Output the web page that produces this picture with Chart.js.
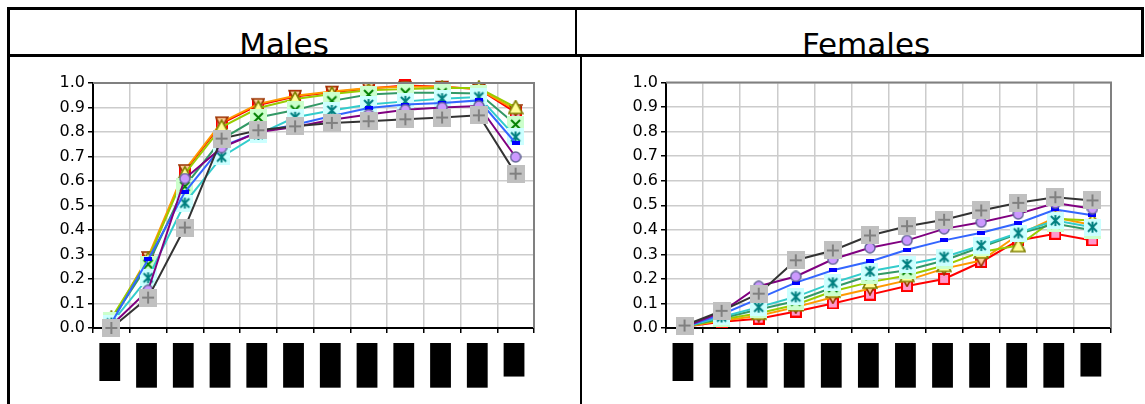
<!DOCTYPE html>
<html>
<head>
<meta charset="utf-8">
<script src="https://cdn.jsdelivr.net/npm/chart.js@4/dist/chart.umd.min.js"></script>
<style>
  body { margin: 0; background: #fff; width: 1145px; height: 404px; overflow: hidden; position: relative; font-family: "DejaVu Sans", sans-serif; }
  .ln { position: absolute; background: #000; }
  .title { position: absolute; top: 28px; font-size: 31px; line-height: 32px; color: #000; transform: translateX(-50%); white-space: nowrap; }
  canvas { position: absolute; }
</style>
</head>
<body>
<!-- table frame -->
<div class="ln" style="left:7px; top:7px; width:1137px; height:3px;"></div>
<div class="ln" style="left:7px; top:54px; width:1137px; height:3px;"></div>
<div class="ln" style="left:7px; top:7px; width:3px; height:397px;"></div>
<div class="ln" style="left:575px; top:7px; width:2px; height:50px;"></div>
<div class="ln" style="left:580px; top:54px; width:2px; height:350px;"></div>
<div class="ln" style="left:1141px; top:7px; width:3px; height:50px;"></div>
<div class="title" style="left:284px;">Males</div>
<div class="title" style="left:866px;">Females</div>

<canvas id="malesChart" width="520" height="334" style="left:40px; top:70px; width:520px; height:334px;"></canvas>
<canvas id="femalesChart" width="530" height="334" style="left:610px; top:70px; width:530px; height:334px;"></canvas>

<script>
// categories (labels are blacked out in the source)
const categories = ['< 25', '25-29', '30-34', '35-39', '40-44', '45-49', '50-54', '55-59', '60-64', '65-69', '70-74', '75+'];
const yTicks = [0, 0.1, 0.2, 0.3, 0.4, 0.5, 0.6, 0.7, 0.8, 0.9, 1.0];

// Males
const malesRed     = [0.03, 0.28, 0.64, 0.835, 0.91, 0.945, 0.962, 0.978, 0.99, 0.985, 0.975, 0.88];
const malesOrange  = [0.03, 0.29, 0.645, 0.84, 0.915, 0.948, 0.965, 0.98, 0.985, 0.985, 0.975, 0.89];
const malesYellow  = [0.04, 0.28, 0.63, 0.82, 0.898, 0.935, 0.955, 0.97, 0.975, 0.98, 0.98, 0.90];
const malesGreen   = [0.03, 0.26, 0.578, 0.77, 0.859, 0.89, 0.927, 0.953, 0.96, 0.96, 0.957, 0.831];
const malesCyan    = [0.02, 0.205, 0.51, 0.698, 0.79, 0.86, 0.888, 0.912, 0.925, 0.936, 0.943, 0.78];
const malesBlue    = [0.02, 0.28, 0.555, 0.74, 0.80, 0.83, 0.865, 0.898, 0.912, 0.918, 0.929, 0.755];
const malesPurple  = [0.01, 0.154, 0.61, 0.736, 0.80, 0.82, 0.85, 0.871, 0.891, 0.90, 0.906, 0.698];
const malesGray    = [0.0, 0.124, 0.41, 0.773, 0.807, 0.823, 0.837, 0.844, 0.852, 0.859, 0.868, 0.63];

// Females
const femalesRed    = [0.005, 0.025, 0.038, 0.067, 0.1, 0.136, 0.171, 0.2, 0.269, 0.357, 0.384, 0.357];
const femalesOrange = [0.005, 0.03, 0.05, 0.085, 0.125, 0.16, 0.194, 0.242, 0.275, 0.38, 0.45, 0.42];
const femalesYellow = [0.005, 0.035, 0.06, 0.095, 0.15, 0.187, 0.214, 0.255, 0.31, 0.336, 0.445, 0.438];
const femalesGreen  = [0.005, 0.04, 0.075, 0.11, 0.165, 0.214, 0.235, 0.275, 0.33, 0.384, 0.425, 0.398];
const femalesCyan   = [0.005, 0.045, 0.085, 0.127, 0.184, 0.231, 0.259, 0.289, 0.336, 0.387, 0.438, 0.411];
const femalesBlue   = [0.005, 0.055, 0.12, 0.185, 0.235, 0.271, 0.319, 0.357, 0.388, 0.427, 0.483, 0.459];
const femalesPurple = [0.005, 0.065, 0.17, 0.21, 0.28, 0.327, 0.357, 0.404, 0.431, 0.465, 0.509, 0.486];
const femalesGray   = [0.01, 0.07, 0.14, 0.276, 0.316, 0.377, 0.415, 0.441, 0.479, 0.51, 0.533, 0.52];

// Excel-like marker images
function marker(kind) {
  const c = document.createElement('canvas');
  const sizes = { square: 12, down: 14, up: 16, xbox: 17, starbox: 17, dash: 8, circle: 12, plusbox: 18 };
  const s = sizes[kind];
  c.width = s;
  c.height = kind === 'dash' ? 4 : s;
  const g = c.getContext('2d');
  g.lineWidth = 2;
  if (kind === 'square') {
    g.fillStyle = '#FF99CC'; g.fillRect(1, 1, s - 2, s - 2);
    g.strokeStyle = '#FF0000'; g.strokeRect(1, 1, s - 2, s - 2);
  } else if (kind === 'down' || kind === 'up') {
    g.beginPath();
    if (kind === 'down') { g.moveTo(1, 2); g.lineTo(s - 1, 2); g.lineTo(s / 2, s - 1); }
    else { g.moveTo(s / 2, 1); g.lineTo(s - 1, s - 2); g.lineTo(1, s - 2); }
    g.closePath();
    g.fillStyle = kind === 'down' ? '#FFCC99' : '#FFFF99'; g.fill();
    g.strokeStyle = kind === 'down' ? '#993300' : '#808000'; g.lineWidth = 1.6; g.stroke();
  } else if (kind === 'dash') {
    g.fillStyle = '#0000FF'; g.fillRect(0, 0, s, 4);
  } else if (kind === 'circle') {
    g.beginPath(); g.arc(s / 2, s / 2, s / 2 - 1, 0, Math.PI * 2);
    g.fillStyle = '#CC99FF'; g.fill();
    g.strokeStyle = '#666699'; g.lineWidth = 1.5; g.stroke();
  } else {
    const bg = { xbox: '#CCFFCC', starbox: '#CCFFFF', plusbox: '#C0C0C0' }[kind];
    const fg = { xbox: '#008000', starbox: '#008080', plusbox: '#808080' }[kind];
    g.fillStyle = bg; g.fillRect(0, 0, s, s);
    g.strokeStyle = fg; g.lineWidth = 2;
    const a = 4, b = s - 4;
    g.beginPath();
    if (kind === 'xbox' || kind === 'starbox') { g.moveTo(a, a); g.lineTo(b, b); g.moveTo(b, a); g.lineTo(a, b); }
    if (kind === 'starbox' || kind === 'plusbox') { g.moveTo(s / 2, a - 1); g.lineTo(s / 2, b + 1); }
    if (kind === 'plusbox') { g.moveTo(a - 1, s / 2); g.lineTo(b + 1, s / 2); }
    g.stroke();
  }
  return c;
}

const styles = [
  { line: '#FF0000', mk: 'square' },
  { line: '#FF9900', mk: 'down' },
  { line: '#99CC00', mk: 'up' },
  { line: '#339966', mk: 'xbox' },
  { line: '#33CCCC', mk: 'starbox' },
  { line: '#3366FF', mk: 'dash' },
  { line: '#800080', mk: 'circle' },
  { line: '#333333', mk: 'plusbox' }
];

// gray-ish top and right frame of the plot area
const plotFrame = {
  id: 'plotFrame',
  afterDatasetsDraw(chart) {
    const a = chart.chartArea, ctx = chart.ctx;
    ctx.save();
    ctx.strokeStyle = '#808080';
    ctx.lineWidth = 2;
    ctx.beginPath();
    ctx.moveTo(a.left, a.top);
    ctx.lineTo(a.right, a.top);
    ctx.lineTo(a.right, a.bottom);
    ctx.stroke();
    ctx.restore();
  }
};

function buildChart(id, series, yWidth, padRight, padTop) {
  // first dataset is painted on top, so list in reverse
  const datasets = series.map((vals, i) => ({
    data: vals,
    borderColor: styles[i].line,
    borderWidth: 2,
    pointStyle: marker(styles[i].mk),
    pointRadius: 6,
    pointHoverRadius: 6,
    tension: 0,
    clip: false
  })).reverse();

  return new Chart(document.getElementById(id), {
    type: 'line',
    data: { labels: categories, datasets: datasets },
    options: {
      responsive: false,
      animation: false,
      events: [],
      layout: { padding: { left: 0, right: padRight, top: padTop, bottom: 0 } },
      plugins: { legend: { display: false }, tooltip: { enabled: false } },
      scales: {
        x: {
          offset: true,
          grid: { offset: true, color: '#cccccc', lineWidth: 1.5, tickColor: '#000', tickLength: 5 },
          border: { color: '#000', width: 2 },
          afterFit: (s) => { s.height = 76; },
          ticks: {
            autoSkip: false,
            minRotation: 90,
            maxRotation: 90,
            padding: 12,
            labelOffset: -10,
            color: '#000',
            font: { family: 'DejaVu Sans', size: 14 },
            showLabelBackdrop: true,
            backdropColor: '#000',
            backdropPadding: 2
          }
        },
        y: {
          min: 0,
          max: 1,
          afterFit: (s) => { s.width = yWidth; },
          afterBuildTicks: (s) => { s.ticks = yTicks.map(v => ({ value: v })); },
          grid: { color: '#cccccc', lineWidth: 1.5, tickColor: '#000', tickLength: 5 },
          border: { color: '#000', width: 2 },
          ticks: {
            padding: 3,
            color: '#000',
            font: { family: 'DejaVu Sans', size: 16 },
            callback: (v) => Number(v).toFixed(1)
          }
        }
      }
    },
    plugins: [plotFrame]
  });
}

buildChart('malesChart',
  [malesRed, malesOrange, malesYellow, malesGreen, malesCyan, malesBlue, malesPurple, malesGray],
  53, 26, 13);
buildChart('femalesChart',
  [femalesRed, femalesOrange, femalesYellow, femalesGreen, femalesCyan, femalesBlue, femalesPurple, femalesGray],
  56, 29, 12);
</script>
</body>
</html>
